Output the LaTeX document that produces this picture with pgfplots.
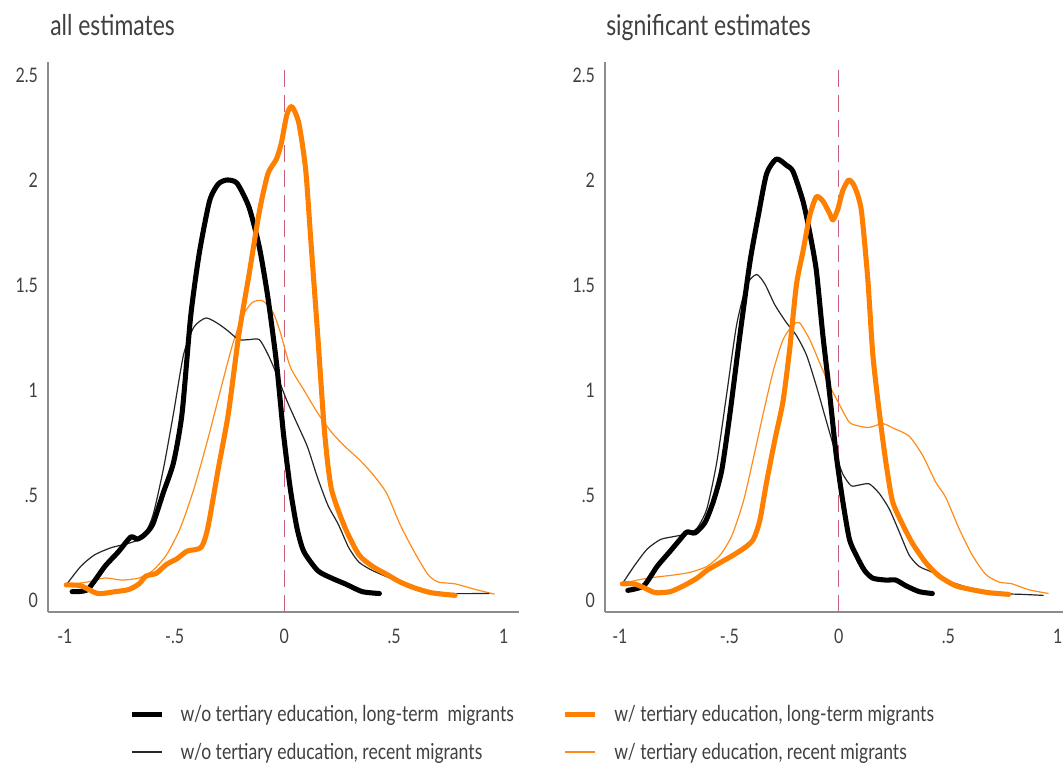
\documentclass[border=0pt]{standalone}
\usepackage{pgfplots}
\pgfplotsset{compat=1.18}
\usepackage{fontspec}
\setmainfont{Lato}[FakeStretch=0.8]
\definecolor{myorange}{HTML}{FF8000}
\definecolor{lightorange}{HTML}{FF8C1A}
\definecolor{axgray}{HTML}{8C8C8C}
\definecolor{dashred}{HTML}{C8607A}
\definecolor{txt}{HTML}{404040}

% ---------------- data: left panel (all estimates) ----------------
\pgfplotstableread{
x y
-0.967 0.04
-0.897 0.05
-0.818 0.16
-0.756 0.23
-0.700 0.30
-0.670 0.29
-0.638 0.31
-0.600 0.36
-0.552 0.51
-0.505 0.655
-0.466 0.89
-0.427 1.35
-0.388 1.65
-0.341 1.90
-0.302 1.98
-0.263 2.00
-0.216 1.985
-0.161 1.87
-0.114 1.68
-0.075 1.44
-0.036 1.13
-0.005 0.80
0.027 0.53
0.058 0.34
0.089 0.23
0.152 0.14
0.214 0.105
0.277 0.077
0.355 0.04
0.433 0.031
}\LBthick
\pgfplotstableread{
x y
-0.994 0.072
-0.928 0.068
-0.850 0.031
-0.770 0.040
-0.709 0.050
-0.662 0.077
-0.631 0.114
-0.584 0.127
-0.537 0.170
-0.490 0.196
-0.443 0.233
-0.380 0.250
-0.349 0.343
-0.302 0.62
-0.255 0.89
-0.208 1.26
-0.161 1.55
-0.114 1.85
-0.075 2.03
-0.036 2.10
-0.013 2.18
0.011 2.31
0.034 2.35
0.066 2.27
0.097 2.05
0.120 1.72
0.152 1.26
0.183 0.80
0.214 0.53
0.277 0.343
0.340 0.215
0.402 0.160
0.465 0.123
0.527 0.086
0.590 0.059
0.668 0.035
0.778 0.022
}\LOthick
\pgfplotstableread{
x y
-0.994 0.072
-0.928 0.16
-0.865 0.215
-0.787 0.25
-0.709 0.27
-0.646 0.30
-0.600 0.40
-0.552 0.62
-0.505 0.89
-0.459 1.17
-0.412 1.30
-0.357 1.343
-0.302 1.316
-0.255 1.28
-0.208 1.24
-0.161 1.24
-0.114 1.24
-0.075 1.17
-0.036 1.077
0.011 0.95
0.058 0.84
0.105 0.73
0.152 0.58
0.199 0.45
0.246 0.36
0.293 0.25
0.340 0.18
0.402 0.14
0.480 0.105
0.559 0.068
0.637 0.040
0.746 0.031
0.934 0.031
}\LBthin
\pgfplotstableread{
x y
-0.994 0.072
-0.897 0.086
-0.818 0.105
-0.740 0.095
-0.662 0.105
-0.600 0.14
-0.537 0.215
-0.474 0.343
-0.412 0.53
-0.349 0.765
-0.286 1.02
-0.239 1.206
-0.192 1.35
-0.146 1.417
-0.099 1.425
-0.052 1.37
-0.020 1.28
0.027 1.11
0.089 1.00
0.152 0.89
0.214 0.80
0.277 0.73
0.340 0.67
0.402 0.60
0.465 0.51
0.527 0.36
0.590 0.233
0.653 0.123
0.700 0.086
0.778 0.077
0.872 0.050
0.958 0.028
}\LOthin

% ---------------- data: right panel (significant estimates) ----------------
\pgfplotstableread{
x y
-0.964 0.046
-0.891 0.068
-0.830 0.16
-0.770 0.233
-0.724 0.29
-0.694 0.324
-0.656 0.32
-0.611 0.37
-0.573 0.47
-0.535 0.617
-0.497 0.89
-0.452 1.26
-0.406 1.61
-0.368 1.83
-0.330 2.03
-0.285 2.10
-0.239 2.07
-0.209 2.04
-0.164 1.90
-0.133 1.75
-0.103 1.57
-0.073 1.26
-0.042 0.98
-0.012 0.69
0.018 0.47
0.048 0.29
0.079 0.214
0.117 0.141
0.155 0.104
0.215 0.095
0.260 0.095
0.306 0.068
0.367 0.040
0.427 0.031
}\RBthick
\pgfplotstableread{
x y
-0.989 0.077
-0.936 0.077
-0.891 0.059
-0.838 0.035
-0.770 0.040
-0.709 0.068
-0.648 0.104
-0.603 0.141
-0.542 0.178
-0.482 0.214
-0.429 0.25
-0.391 0.288
-0.361 0.379
-0.330 0.562
-0.292 0.764
-0.255 0.947
-0.224 1.20
-0.194 1.50
-0.164 1.66
-0.133 1.83
-0.103 1.92
-0.073 1.90
-0.042 1.84
-0.027 1.81
-0.005 1.86
0.018 1.95
0.045 2.00
0.071 1.97
0.102 1.86
0.132 1.53
0.155 1.17
0.185 0.89
0.215 0.654
0.245 0.47
0.291 0.36
0.336 0.27
0.397 0.178
0.458 0.114
0.533 0.068
0.609 0.049
0.685 0.035
0.776 0.027
}\ROthick
\pgfplotstableread{
x y
-0.989 0.077
-0.936 0.16
-0.876 0.242
-0.815 0.288
-0.755 0.302
-0.694 0.315
-0.648 0.342
-0.603 0.434
-0.558 0.654
-0.512 0.983
-0.467 1.31
-0.421 1.50
-0.376 1.55
-0.338 1.505
-0.292 1.405
-0.239 1.32
-0.194 1.26
-0.148 1.167
-0.103 1.02
-0.058 0.855
-0.012 0.69
0.018 0.60
0.056 0.544
0.094 0.548
0.139 0.553
0.185 0.507
0.230 0.434
0.276 0.324
0.321 0.214
0.367 0.160
0.427 0.132
0.488 0.095
0.564 0.068
0.639 0.046
0.730 0.031
0.836 0.027
0.935 0.022
}\RBthin
\pgfplotstableread{
x y
-0.989 0.077
-0.921 0.095
-0.845 0.108
-0.755 0.119
-0.679 0.132
-0.603 0.16
-0.542 0.214
-0.489 0.306
-0.436 0.47
-0.391 0.672
-0.345 0.89
-0.300 1.09
-0.255 1.24
-0.209 1.31
-0.179 1.32
-0.133 1.24
-0.088 1.13
-0.042 1.02
0.003 0.93
0.048 0.846
0.094 0.828
0.139 0.822
0.200 0.84
0.245 0.82
0.321 0.78
0.382 0.69
0.442 0.562
0.488 0.489
0.548 0.342
0.609 0.214
0.670 0.123
0.730 0.086
0.791 0.077
0.867 0.049
0.958 0.031
}\ROthin

\pgfplotsset{
  panel/.style={
    scale only axis,
    width=353.25pt, height=412.5pt,
    ymin=-0.057, ymax=2.562,
    axis x line*=bottom, axis y line*=left,
    axis line style={axgray, line width=1.1pt, -},
    major tick length=0pt,
    xtick={-1,-0.5,0,0.5,1},
    xticklabels={-1,-.5,0,.5,1},
    ytick={0,0.5,1,1.5,2,2.5},
    yticklabels={0,.5,1,1.5,2,2.5},
    tick label style={font=\fontsize{15}{17}\selectfont, text=txt},
    xticklabel style={yshift=-9pt},
    yticklabel style={xshift=-4pt},
    clip=false,
  },
  sThickBlack/.style={black, line width=3.8pt, line join=round, line cap=round, smooth, tension=0.4},
  sThinBlack/.style={black!85, line width=0.9pt, line join=round, smooth, tension=0.4},
  sThickOrange/.style={myorange, line width=3.8pt, line join=round, line cap=round, smooth, tension=0.4},
  sThinOrange/.style={lightorange, line width=0.9pt, line join=round, smooth, tension=0.4},
  sZero/.style={dashred, line width=0.8pt, dash pattern=on 12.75pt off 6pt},
}

\begin{document}
\begin{tikzpicture}
\path[use as bounding box] (0,0) rectangle (797.25pt,573pt);

% left panel
\begin{axis}[panel,
  at={(36pt,114pt)}, anchor=south west,
  xmin=-1.077, xmax=1.069,
  legend columns=2,
  legend cell align=left,
  legend style={draw=none, fill=none, inner sep=0pt, outer sep=0pt,
    at={(0.172,-0.169)}, anchor=north west,
    font=\fontsize{16.5}{18}\selectfont, text=txt,
    row sep=15pt,
    nodes={inner sep=0pt},
    /tikz/every odd column/.append style={column sep=12.5pt},
    /tikz/every even column/.append style={column sep=0pt}},
  legend image code/.code={\draw[#1, line cap=butt] (0pt,0pt) -- (22.5pt,0pt);},
]
\addplot[sZero, forget plot] coordinates {(0,-0.057) (0,2.533)};
\addplot[sThinOrange, forget plot] table {\LOthin};
\addplot[sThinBlack, forget plot] table {\LBthin};
\addplot[sThickBlack, forget plot] table {\LBthick};
\addplot[sThickOrange, forget plot] table {\LOthick};
\addlegendimage{black, line width=3.8pt}
\addlegendentry{\makebox[286.5pt][l]{w/o tertiary education, long-term\ \ migrants}}
\addlegendimage{myorange, line width=3.8pt}
\addlegendentry{w/ tertiary education, long-term migrants}
\addlegendimage{black!85, line width=1.2pt}
\addlegendentry{\makebox[286.5pt][l]{w/o tertiary education, recent migrants}}
\addlegendimage{lightorange, line width=1.2pt}
\addlegendentry{w/ tertiary education, recent migrants}
\node[anchor=base west, text=txt, font=\fontsize{21.5}{23}\selectfont, inner sep=0pt]
  at (rel axis cs:0,1) [xshift=1.5pt, yshift=19.5pt] {all estimates};
\end{axis}

% right panel
\begin{axis}[panel,
  at={(453.75pt,114pt)}, anchor=south west,
  xmin=-1.068, xmax=1.083,
]
\addplot[sZero] coordinates {(0,-0.057) (0,2.533)};
\addplot[sThinOrange] table {\ROthin};
\addplot[sThinBlack] table {\RBthin};
\addplot[sThickBlack] table {\RBthick};
\addplot[sThickOrange] table {\ROthick};
\node[anchor=base west, text=txt, font=\fontsize{21.5}{23}\selectfont, inner sep=0pt]
  at (rel axis cs:0,1) [xshift=0.75pt, yshift=19.5pt] {significant estimates};
\end{axis}
\end{tikzpicture}
\end{document}
